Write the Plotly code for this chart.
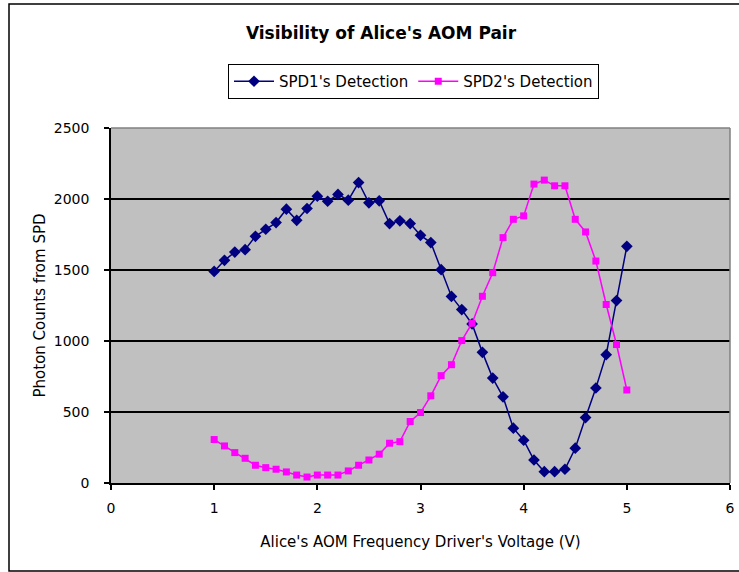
import plotly.graph_objects as go

voltage = [1.0, 1.1, 1.2, 1.3, 1.4, 1.5, 1.6, 1.7, 1.8, 1.9,
           2.0, 2.1, 2.2, 2.3, 2.4, 2.5, 2.6, 2.7, 2.8, 2.9,
           3.0, 3.1, 3.2, 3.3, 3.4, 3.5, 3.6, 3.7, 3.8, 3.9,
           4.0, 4.1, 4.2, 4.3, 4.4, 4.5, 4.6, 4.7, 4.8, 4.9, 5.0]

spd1 = [1490, 1568, 1626, 1643, 1737, 1787, 1834, 1928, 1850, 1933,
        2020, 1984, 2032, 1992, 2116, 1973, 1987, 1827, 1846, 1827,
        1744, 1693, 1502, 1314, 1221, 1120, 920, 739, 607, 386,
        301, 162, 80, 80, 97, 245, 461, 669, 904, 1285, 1667]

spd2 = [306, 261, 214, 174, 125, 108, 97, 78, 56, 42,
        56, 56, 56, 85, 125, 162, 203, 280, 291, 433,
        496, 614, 756, 833, 1003, 1125, 1315, 1481, 1728, 1857,
        1881, 2105, 2133, 2093, 2093, 1857, 1768, 1563, 1257, 975, 655]

x_ticks = [0, 1, 2, 3, 4, 5, 6]
y_ticks = [0, 500, 1000, 1500, 2000, 2500]

FONT = "DejaVu Sans, Verdana, Arial, sans-serif"

fig = go.Figure()
fig.add_trace(go.Scatter(
    x=voltage, y=spd1, mode="lines+markers", name="SPD1's Detection",
    line=dict(color="#000080", width=1.5),
    marker=dict(symbol="diamond", size=9, color="#000080"),
))
fig.add_trace(go.Scatter(
    x=voltage, y=spd2, mode="lines+markers", name="SPD2's Detection",
    line=dict(color="#FF00FF", width=1.5),
    marker=dict(symbol="square", size=7, color="#FF00FF"),
))

L, R, T, B = 111, 9, 128, 89
W, H = 739, 572
pw, ph = W - L - R, H - T - B

def px_x(p):
    return (p - L) / pw

def px_y(p):
    return (H - B - p) / ph

fig.update_layout(
    width=W, height=H,
    margin=dict(l=L, r=R, t=T, b=B, autoexpand=False),
    paper_bgcolor="white",
    plot_bgcolor="#C0C0C0",
    font=dict(family=FONT, size=14, color="black"),
    title=dict(text="<b>Visibility of Alice's AOM Pair</b>",
               x=px_x(381), xanchor="center", xref="paper",
               y=1 - 33 / H, yanchor="middle",
               font=dict(family=FONT, size=17, color="black")),
    showlegend=True,
    legend=dict(orientation="h", x=px_x(228), y=px_y(64),
                xanchor="left", yanchor="top",
                bordercolor="black", borderwidth=1,
                bgcolor="white",
                font=dict(family=FONT, size=15, color="black"),
                itemwidth=40, tracegroupgap=0),
    xaxis=dict(range=[0, 6], tickvals=x_ticks, ticks="outside", ticklen=5,
               tickcolor="black", tickwidth=1.5,
               showline=True, linecolor="black", linewidth=1.5,
               showgrid=False, zeroline=False, automargin=False,
               ticklabelstandoff=6,
               tickfont=dict(family=FONT, size=14),
               title=dict(text="Alice's AOM Frequency Driver's Voltage (V)",
                          standoff=22, font=dict(family=FONT, size=15))),
    yaxis=dict(range=[0, 2500], tickvals=y_ticks, ticks="outside", ticklen=5,
               tickcolor="black", tickwidth=1.5,
               showline=True, linecolor="black", linewidth=1.5,
               showgrid=True, gridcolor="black", gridwidth=1.5,
               zeroline=False, automargin=False,
               ticklabelstandoff=12,
               tickfont=dict(family=FONT, size=14),
               title=dict(text="Photon Counts from SPD", standoff=5,
                          font=dict(family=FONT, size=15))),
    shapes=[
        dict(type="line", xref="paper", yref="paper", x0=0, x1=1, y0=1, y1=1,
             line=dict(color="#808080", width=1.5), layer="above"),
        dict(type="line", xref="paper", yref="paper", x0=1, x1=1, y0=0, y1=1,
             line=dict(color="#808080", width=1.5), layer="above"),
        dict(type="rect", xref="paper", yref="paper",
             x0=px_x(9), x1=px_x(745), y0=px_y(571), y1=px_y(4),
             line=dict(color="black", width=1.5), fillcolor="rgba(0,0,0,0)",
             layer="above"),
    ],
)

fig.write_html("out.html")
